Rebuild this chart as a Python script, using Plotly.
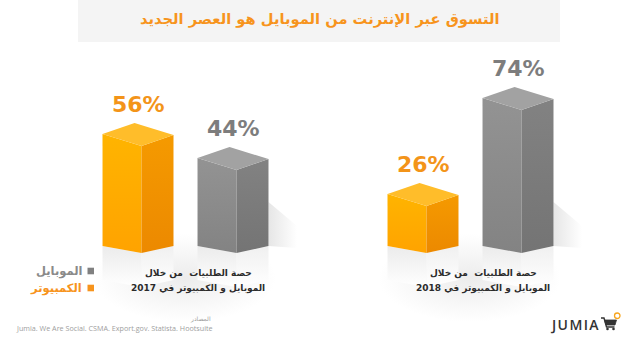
import plotly.graph_objects as go

# ---- data -------------------------------------------------------------
years = ["2017", "2018"]
series_names = ["الكمبيوتر", "الموبايل"]          # computer, mobile
computer_share = [56, 26]
mobile_share = [44, 74]

title_text = "التسوق عبر الإنترنت من الموبايل هو العصر الجديد"
caption_top = "حصة الطلبيات  من خلال"
caption_bottom = "الموبايل و الكمبيوتر في {}"
sources_heading = "المصادر"
sources_text = "Jumia. We Are Social. CSMA. Export.gov. Statista. Hootsuite"
brand = "JUMIA"

# ---- geometry / style -------------------------------------------------
W, H = 640, 346
X_UNIT = 95.0        # px per x unit
X_ORIGIN = 122.0     # px of x = 0
Y_UNIT = 2.0         # px per percentage point
Y_BASE = 246.0       # px of y = 0

GROUP_BASE = [0, 3]  # x of the first bar in each year group
FW, SW = 0.41, 0.337         # front / side face widths (x units)
TD, TR = 6.0, 5.5            # top edge drop / rise (y units)
BD, BR = 3.5, 3.5            # bottom edge drop / rise

STYLE = {
    "computer": dict(front=("#FFA300", "#FFB400"), side=("#EC8900", "#F59A00"),
                     cap="#FFBD2A", label="#F39419"),
    "mobile": dict(front=("#838383", "#939393"), side=("#747474", "#828282"),
                   cap="#A2A2A2", label="#7D7D7D"),
}


def px_x(p):
    return p / W


def px_y(p):
    return 1 - p / H


def poly(fig, xs, ys, color=None, grad=None, gtype="vertical"):
    kw = dict(x=xs + [xs[0]], y=ys + [ys[0]], mode="lines", fill="toself",
              line=dict(width=0), hoverinfo="skip", showlegend=False)
    if grad:
        kw["fillgradient"] = dict(type=gtype,
                                  colorscale=[[0, grad[0]], [1, grad[1]]])
    else:
        kw["fillcolor"] = color
    fig.add_trace(go.Scatter(**kw))


fig = go.Figure()

# soft backdrop behind each year's caption, fading out towards its edges
for base in GROUP_BASE:
    xa, xb = base - 0.3, base + 1.62
    poly(fig, [xa, xb, xb, xa], [-38, -38, 6, 6], grad=("#ececec", "#ffffff"),
         gtype="radial")

bars = []
for g, base in enumerate(GROUP_BASE):
    bars.append(("computer", base, computer_share[g]))
    bars.append(("mobile", base + 1, mobile_share[g]))

# reflections and shadows under the boxes
for kind, xc, v in bars:
    x0, x1 = xc - FW / 2, xc + FW / 2
    x2 = x1 + SW
    h = 17
    poly(fig, [x0, x1, x1, x0], [0, -BD, -BD - h, -h], grad=("#ffffff", "#ebebeb"))
    poly(fig, [x1, x2, x2, x1], [-BD, -BD + BR, -BD + BR - h, -BD - h],
         grad=("#ffffff", "#f0f0f0"))
    if kind == "mobile":
        poly(fig, [x2, x2 + 0.3, x2 + 0.3, x2],
             [-BD + BR, -BD + BR - 1, 10, 22],
             grad=("#e6e6e6", "#ffffff"), gtype="horizontal")

# the 3-D boxes: front face, side face and top cap, all from the share value
for kind, xc, v in bars:
    st = STYLE[kind]
    x0, x1 = xc - FW / 2, xc + FW / 2
    x2 = x1 + SW
    poly(fig, [x0, x0, x1, x1], [0, v, v - TD, -BD], grad=st["front"])
    poly(fig, [x1, x1, x2, x2], [-BD, v - TD, v - TD + TR, -BD + BR], grad=st["side"])
    poly(fig, [x0, x0 + SW, x2, x1], [v, v + TR, v - TD + TR, v - TD], color=st["cap"])
    fig.add_annotation(x=x0 + (FW + SW) / 2, y=v + TR, xref="x", yref="y",
                       text=f"{v}%", showarrow=False, yshift=19, yanchor="middle",
                       font=dict(family="DejaVu Sans", size=22, color=st["label"],
                                 weight="bold"))

# captions under each group
for g, base in enumerate(GROUP_BASE):
    fig.add_annotation(x=base + 0.8, y=px_y(273), xref="x", yref="paper",
                       text=caption_top, showarrow=False, yanchor="middle",
                       font=dict(family="DejaVu Sans", size=9, color="#2b2b2b",
                                 weight="bold"))
    fig.add_annotation(x=base + 0.8, y=px_y(288), xref="x", yref="paper",
                       text=caption_bottom.format(years[g]), showarrow=False,
                       yanchor="middle",
                       font=dict(family="DejaVu Sans", size=9, color="#2b2b2b",
                                 weight="bold"))

shapes = []
# title banner
shapes.append(dict(type="rect", xref="paper", yref="paper", x0=px_x(78), x1=px_x(560),
                   y0=px_y(42), y1=1, fillcolor="#f4f4f4", line=dict(width=0),
                   layer="below"))
fig.add_annotation(x=0.5, y=px_y(19), xref="paper", yref="paper", text=title_text,
                   showarrow=False, yanchor="middle",
                   font=dict(family="DejaVu Sans", size=14.7, color="#F7941D",
                             weight="bold"))

# legend (square to the right of the label)
legend_rows = [("mobile", series_names[1], 271), ("computer", series_names[0], 288)]
for kind, name, py in legend_rows:
    sq = "#808080" if kind == "mobile" else "#F7941D"
    txt = "#8a8a8a" if kind == "mobile" else "#F7941D"
    shapes.append(dict(type="rect", xref="paper", yref="paper", x0=px_x(87.5),
                       x1=px_x(94), y0=px_y(py + 3.3), y1=px_y(py - 3.3),
                       fillcolor=sq, line=dict(width=0)))
    fig.add_annotation(x=px_x(84), y=px_y(py), xref="paper", yref="paper", text=name,
                       showarrow=False, xanchor="right", yanchor="middle",
                       font=dict(family="DejaVu Sans", size=11.5, color=txt,
                                 weight="bold"))

# sources
fig.add_annotation(x=px_x(213), y=px_y(319), xref="paper", yref="paper",
                   text=sources_heading, showarrow=False, xanchor="right",
                   yanchor="middle", font=dict(family="DejaVu Sans", size=6,
                                               color="#9a9a9a"))
fig.add_annotation(x=px_x(14), y=px_y(328), xref="paper", yref="paper",
                   text=sources_text, showarrow=False, xanchor="left",
                   yanchor="middle", font=dict(family="Open Sans", size=7.2,
                                               color="#a0a0a0"))

# brand mark: word plus a small cart
fig.add_annotation(x=px_x(601), y=px_y(324.5), xref="paper", yref="paper",
                   text="\u200a".join(brand), showarrow=False, xanchor="right",
                   yanchor="middle", font=dict(family="Open Sans", size=14,
                                               color="#333333", weight=600))


def pth(points):
    return "M " + " L ".join(f"{px_x(a):.5f},{px_y(b):.5f}" for a, b in points)


shapes.append(dict(type="path", xref="paper", yref="paper",
                   path=pth([(601, 318), (604, 318), (606.5, 327), (614.5, 327)]),
                   line=dict(color="#333333", width=1.4)))
shapes.append(dict(type="path", xref="paper", yref="paper",
                   path=pth([(604.5, 320), (616.5, 320), (615, 325), (606, 325)]) + " Z",
                   fillcolor="#333333", line=dict(color="#333333", width=0.8)))
for cx in (607.5, 613.5):
    shapes.append(dict(type="circle", xref="paper", yref="paper", x0=px_x(cx - 1.3),
                       x1=px_x(cx + 1.3), y0=px_y(330.3), y1=px_y(327.7),
                       fillcolor="#333333", line=dict(width=0)))
shapes.append(dict(type="circle", xref="paper", yref="paper", x0=px_x(614.5),
                   x1=px_x(620), y0=px_y(318.5), y1=px_y(313), fillcolor="#ffffff",
                   line=dict(color="#F7A51D", width=1.3)))

fig.update_layout(
    width=W, height=H, margin=dict(l=0, r=0, t=0, b=0),
    paper_bgcolor="white", plot_bgcolor="white",
    xaxis=dict(range=[-X_ORIGIN / X_UNIT, (W - X_ORIGIN) / X_UNIT], visible=False,
               fixedrange=True),
    yaxis=dict(range=[(Y_BASE - H) / Y_UNIT, Y_BASE / Y_UNIT], visible=False,
               fixedrange=True),
    shapes=shapes, showlegend=False,
)

fig.write_html("out.html", config={"displayModeBar": False})
